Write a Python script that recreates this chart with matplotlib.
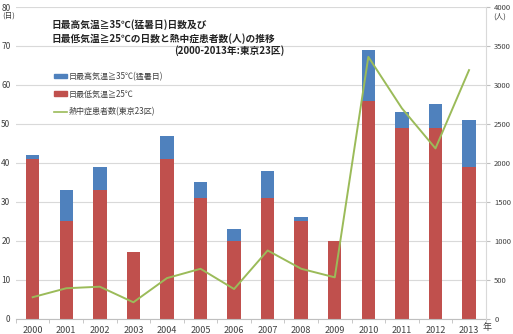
import numpy as np
import matplotlib.pyplot as plt
from matplotlib.patches import Patch
from matplotlib.lines import Line2D

plt.rcParams['font.family'] = ['Noto Sans CJK JP', 'DejaVu Sans']

years = ['2000', '2001', '2002', '2003', '2004', '2005', '2006',
         '2007', '2008', '2009', '2010', '2011', '2012', '2013']
nights25 = [41, 25, 33, 17, 41, 31, 20, 31, 25, 20, 56, 49, 49, 39]
days35 = [1, 8, 6, 0, 6, 4, 3, 7, 1, 0, 13, 4, 6, 12]
patients = [275, 390, 410, 210, 520, 640, 380, 875, 640, 530, 3360, 2700, 2185, 3190]

red = '#C0504D'
blue = '#4F81BD'
green = '#9BBB59'
tick_col = '#404040'

fig = plt.figure(figsize=(5.13, 3.34), dpi=100)
ax = fig.add_axes([0.031, 0.046, 0.916, 0.933])
x = np.arange(len(years))

ax.bar(x, nights25, width=0.4, color=red, zorder=2)
ax.bar(x, days35, width=0.4, bottom=nights25, color=blue, zorder=2)

ax.set_xlim(-0.5, len(years) - 0.5)
ax.set_ylim(0, 80)
ax.set_yticks(range(0, 81, 10))
ax.yaxis.grid(True, color='#d9d9d9', lw=0.8, zorder=0)
ax.set_axisbelow(True)
ax.tick_params(axis='y', length=0, labelsize=6, labelcolor=tick_col, pad=4)
ax.set_xticks(x)
ax.set_xticklabels(years)
ax.set_xticks(np.arange(-0.5, len(years), 1), minor=True)
ax.tick_params(axis='x', which='major', length=0, labelsize=6.5, labelcolor=tick_col, pad=5)
ax.tick_params(axis='x', which='minor', length=3, color='#bfbfbf')
for s in ['top', 'left', 'right']:
    ax.spines[s].set_visible(False)
ax.spines['bottom'].set_color('#bfbfbf')

ax2 = ax.twinx()
ax2.plot(x, patients, color=green, lw=1.4, zorder=3)
ax2.set_ylim(0, 4000)
ax2.set_yticks(range(0, 4001, 500))
ax2.tick_params(axis='y', length=3, color='#bfbfbf', labelsize=5.5, labelcolor=tick_col, pad=3)
for s in ['top', 'left', 'bottom']:
    ax2.spines[s].set_visible(False)
ax2.spines['right'].set_color('#d9d9d9')

fig.text(0.004, 0.962, '(日)', fontsize=5.5, color=tick_col, va='top')
fig.text(0.962, 0.962, '(人)', fontsize=5.5, color=tick_col, va='top')
fig.text(0.94, 0.012, '年', fontsize=6.5, color=tick_col)

fig.text(0.101, 0.915, '日最高気温≧35℃(猛暑日)日数及び', fontsize=7, fontweight='bold', color='#222222')
fig.text(0.101, 0.875, '日最低気温≧25℃の日数と熱中症患者数(人)の推移', fontsize=7, fontweight='bold', color='#222222')
fig.text(0.555, 0.838, '(2000-2013年:東京23区)', fontsize=7, fontweight='bold', color='#222222', ha='right')

handles = [Patch(color=blue), Patch(color=red), Line2D([], [], color=green, lw=1.2)]
labels = ['日最高気温≧35℃(猛暑日)', '日最低気温≧25℃', '熱中症患者数(東京23区)']
ax.legend(handles, labels, loc='upper left', bbox_to_anchor=(0.065, 0.815), frameon=False,
          fontsize=5.8, labelspacing=1.05, handlelength=1.6, handleheight=0.45,
          handletextpad=0.3, labelcolor=tick_col)

fig.savefig('out.png', dpi=100)
